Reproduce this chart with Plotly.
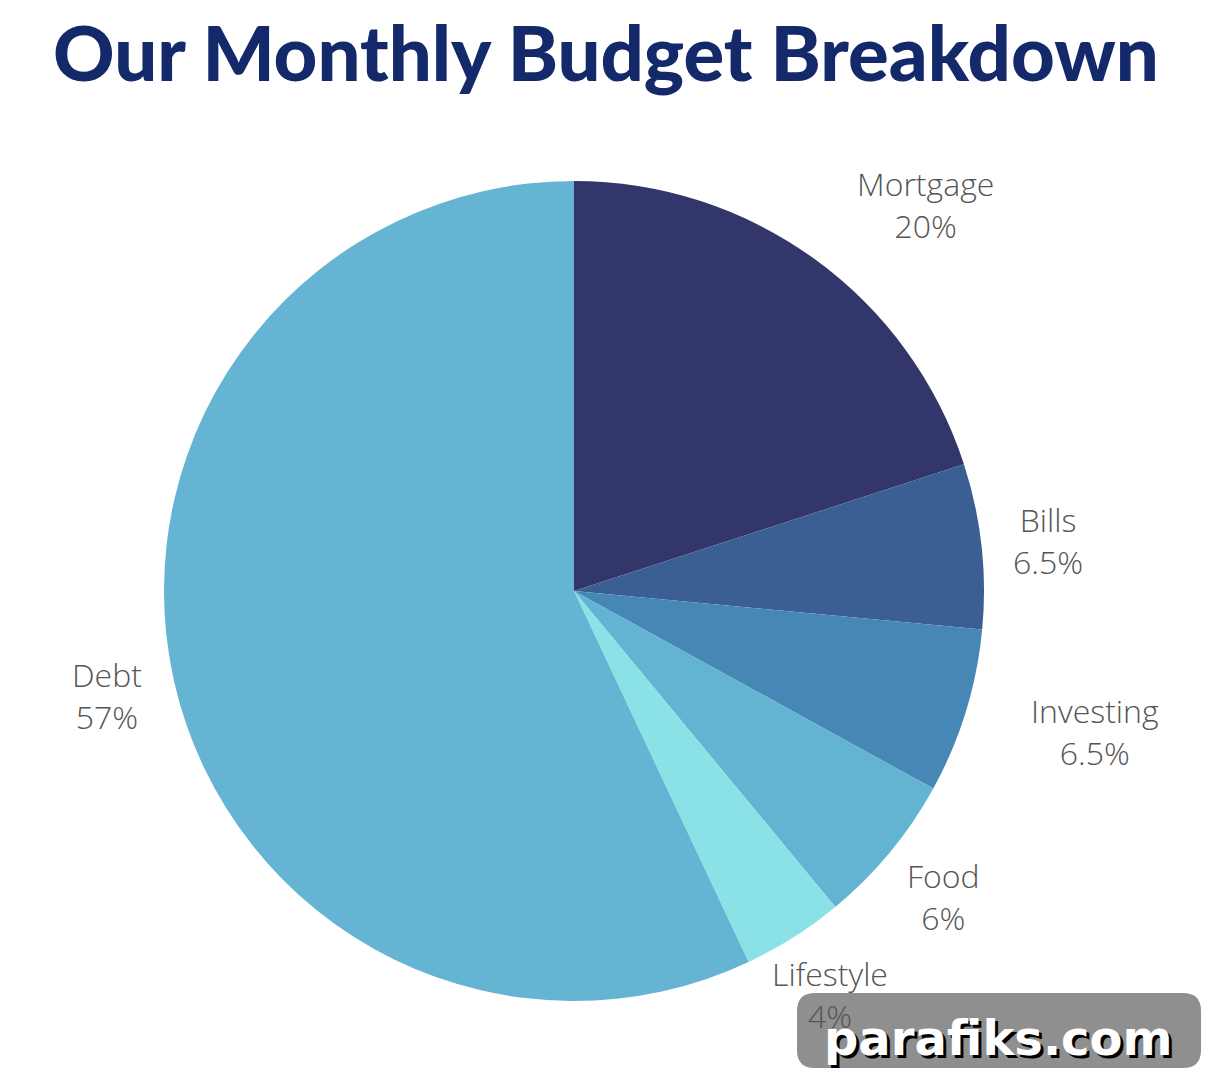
import math
import plotly.graph_objects as go

categories = ["Mortgage", "Bills", "Investing", "Food", "Lifestyle", "Debt"]
values = [20, 6.5, 6.5, 6, 4, 57]
value_labels = ["20%", "6.5%", "6.5%", "6%", "4%", "57%"]
colors = ["#32366a", "#3b5e93", "#4687b5", "#63b3d2", "#8ae2e6", "#66b4d4"]
label_radius = [522, 477, 540, 479, 478, 479]   # label distance from centre (px)
label_angle_shift = [6.3, 0.2, -2.0, 0.0, 0.0, 0.0]  # degrees
title_text = "Our Monthly Budget Breakdown"

W, H = 1206, 1082
cx, cy, r = 574, 591, 410

fig = go.Figure(go.Pie(
    labels=categories,
    values=values,
    sort=False,
    direction="clockwise",
    rotation=0,
    marker=dict(colors=colors, line=dict(width=0)),
    textinfo="none",
    hoverinfo="label+percent",
    showlegend=False,
    domain=dict(x=[(cx - r) / W, (cx + r) / W], y=[1 - (cy + r) / H, 1 - (cy - r) / H]),
))

annotations = []
total = sum(values)
cum = 0
for cat, v, lab, rad, sh in zip(categories, values, value_labels, label_radius, label_angle_shift):
    mid = (cum + v / 2) / total * 2 * math.pi + math.radians(sh)
    cum += v
    px = cx + rad * math.sin(mid)
    py = cy - rad * math.cos(mid)
    annotations.append(dict(
        x=px / W, y=1 - py / H, xref="paper", yref="paper",
        text=f"{cat}<br>{lab}", showarrow=False,
        font=dict(family="Open Sans", size=32, color="#555555", weight=300),
        align="center", xanchor="center", yanchor="middle",
    ))

annotations.append(dict(
    x=606 / W, y=1 - 52 / H, xref="paper", yref="paper",
    text=title_text, showarrow=False,
    font=dict(family="Lato", size=76, color="#14296a", weight=900),
    xanchor="center", yanchor="middle",
))

# watermark
annotations.append(dict(
    x=999 / W, y=1 - 1038 / H, xref="paper", yref="paper",
    text="parafiks.com", showarrow=False,
    font=dict(family="DejaVu Sans", size=48, color="white", weight=700,
              shadow="3px 3px 0px #000000"),
    xanchor="center", yanchor="middle",
))

x0, x1, y0, y1, rr = 797, 1201, 993, 1068, 18
path = (f"M {x0+rr},{y0} L {x1-rr},{y0} Q {x1},{y0} {x1},{y0+rr} "
        f"L {x1},{y1-rr} Q {x1},{y1} {x1-rr},{y1} L {x0+rr},{y1} "
        f"Q {x0},{y1} {x0},{y1-rr} L {x0},{y0+rr} Q {x0},{y0} {x0+rr},{y0} Z")

fig.update_layout(
    width=W, height=H,
    margin=dict(l=0, r=0, t=0, b=0),
    paper_bgcolor="white", plot_bgcolor="white",
    xaxis=dict(visible=False, range=[0, W], fixedrange=True),
    yaxis=dict(visible=False, range=[H, 0], fixedrange=True),
    annotations=annotations,
    shapes=[dict(type="path", path=path, xref="x", yref="y",
                 fillcolor="rgba(128,128,128,0.88)", line=dict(width=0), layer="above")],
)

fig.write_html("out.html")
